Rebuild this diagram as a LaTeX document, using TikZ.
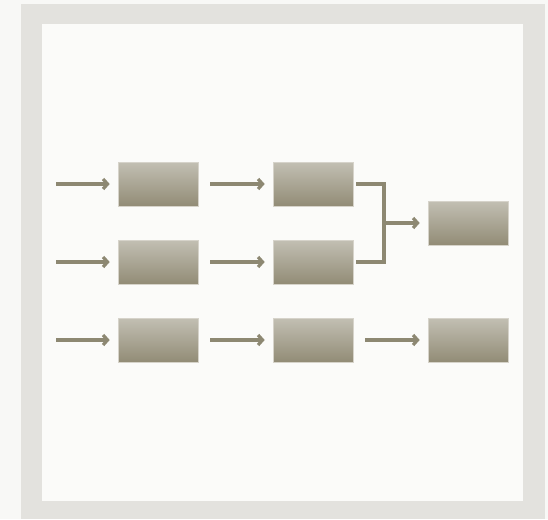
\documentclass[tikz,border=0pt]{standalone}
\usepackage{tikz}
\usetikzlibrary{arrows.meta}

\definecolor{outerbg}{HTML}{F8F8F6}
\definecolor{framegray}{HTML}{E3E2DE}
\definecolor{paper}{HTML}{FBFBF9}
\definecolor{wirecol}{HTML}{8D8872}
\definecolor{boxtop}{HTML}{C2BFB3}
\definecolor{boxbot}{HTML}{928C76}
\definecolor{boxrim}{HTML}{D6D3CA}

\begin{document}
\begin{tikzpicture}[x=1pt, y=-1pt, node distance={155pt},
    blk/.style = {rectangle, minimum width=80pt, minimum height=44pt, inner sep=0pt,
                  draw=boxrim, line width=0.6pt, top color=boxtop, bottom color=boxbot},
    wire/.style = {draw=wirecol, line width=3.2pt, line join=miter},
    conn/.style = {wire, -{Straight Barb[length=4.5pt,width=10pt]}, shorten >=8pt}]
            \useasboundingbox (0,0) rectangle (548,519);
            \fill[outerbg] (0,0) rectangle (548,519);
            \fill[framegray] (21,4) rectangle (545,519);
            \fill[paper] (42,24) rectangle (523,501);

            \node[blk] (a1) at (158,184) {};
            \node[blk] (b1) [right of=a1] {};
            \node[blk] (a2) at (158,262) {};
            \node[blk] (b2) [right of=a2] {};
            \node[blk] (a3) at (158,340) {};
            \node[blk] (b3) [right of=a3] {};
            \node[blk] (c3) [right of=b3] {};
            \node[blk] (c1) at (468,223) {};

            \coordinate (in1) at (56,184);
            \coordinate (in2) at (56,262);
            \coordinate (in3) at (56,340);
            \coordinate (j) at (384,223);

            \draw[conn] (in1) -- (a1.west);
            \draw[conn] (in2) -- (a2.west);
            \draw[conn] (in3) -- (a3.west);

            \draw[conn, shorten <=12pt] (a1.east) -- (b1.west);
            \draw[conn, shorten <=12pt] (a2.east) -- (b2.west);
            \draw[conn, shorten <=12pt] (a3.east) -- (b3.west);
            \draw[conn, shorten <=12pt] (b3.east) -- (c3.west);

            \draw[wire] ([xshift=3pt]b1.east) -- (b1.east -| j) -- (b2.east -| j) -- ([xshift=3pt]b2.east);
            \draw[conn] (j) -- (c1.west);
        \end{tikzpicture}
\end{document}
